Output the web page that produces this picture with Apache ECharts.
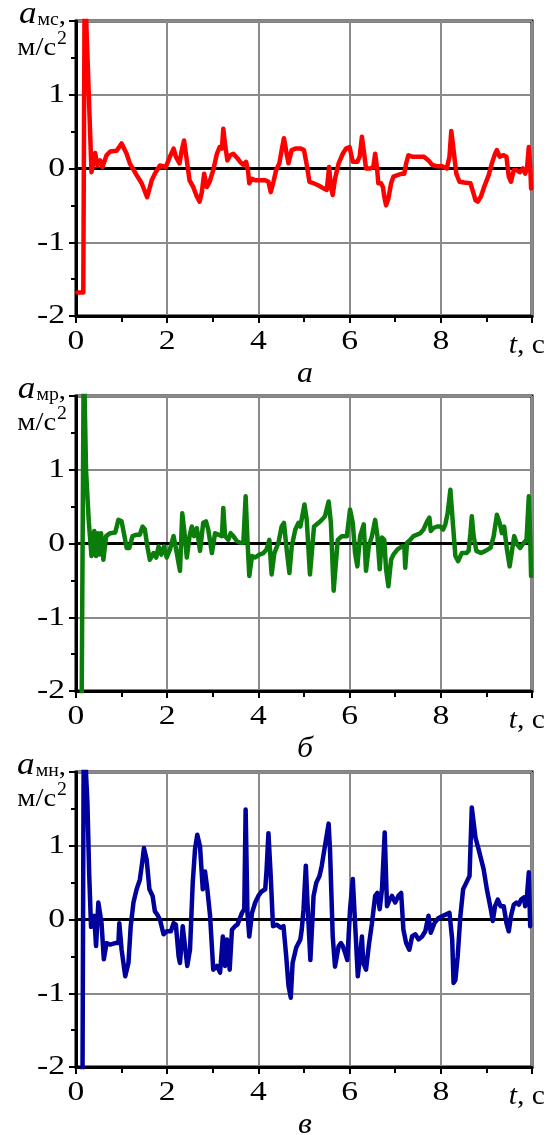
<!DOCTYPE html>
<html>
<head>
<meta charset="utf-8">
<script src="https://cdn.jsdelivr.net/npm/echarts@6/dist/echarts.min.js"></script>
<style>
html,body{margin:0;padding:0;background:#fff;}
#chart{width:546px;height:1135px;}
</style>
</head>
<body>
<div id="chart"></div>
<script>
// ---------- data ----------
const xTicks = [0, 2, 4, 6, 8];
const yTicks = [-2, -1, 0, 1];

// panel а: a_мс
const tMs = [0.03,0.16,0.19,0.22,0.34,0.42,0.47,0.53,0.58,0.67,0.75,0.89,1.0,1.11,1.18,1.33,1.44,1.56,1.66,1.73,1.84,1.97,2.06,2.14,2.19,2.27,2.32,2.37,2.43,2.49,2.57,2.65,2.71,2.76,2.81,2.87,2.93,3.01,3.09,3.15,3.20,3.23,3.27,3.32,3.38,3.45,3.54,3.60,3.67,3.73,3.77,3.80,3.86,3.93,4.04,4.15,4.22,4.27,4.33,4.39,4.46,4.51,4.56,4.62,4.66,4.73,4.81,4.88,4.93,5.00,5.06,5.12,5.21,5.32,5.43,5.50,5.55,5.59,5.63,5.68,5.76,5.85,5.92,6.00,6.07,6.17,6.22,6.27,6.32,6.36,6.45,6.52,6.56,6.60,6.63,6.69,6.73,6.76,6.80,6.85,6.91,6.96,7.05,7.15,7.20,7.24,7.29,7.37,7.48,7.63,7.73,7.81,7.92,8.03,8.13,8.19,8.23,8.28,8.34,8.41,8.51,8.65,8.71,8.76,8.81,8.88,8.95,9.05,9.12,9.19,9.23,9.29,9.38,9.44,9.49,9.54,9.60,9.66,9.73,9.80,9.85,9.89,9.93,9.96,9.98];
const aMs = [-1.68,-1.68,2.6,2.6,-0.05,0.21,0.04,0.11,0.02,0.18,0.23,0.24,0.34,0.20,0.07,-0.09,-0.20,-0.39,-0.16,-0.07,0.04,0.02,0.16,0.27,0.16,0.07,0.25,0.38,0.11,-0.16,-0.25,-0.38,-0.45,-0.32,-0.07,-0.25,-0.18,-0.02,0.20,0.29,0.27,0.54,0.32,0.11,0.18,0.20,0.14,0.09,0.05,0.09,-0.02,-0.20,-0.14,-0.16,-0.16,-0.16,-0.18,-0.32,-0.18,-0.02,0.07,0.25,0.41,0.20,0.07,0.25,0.27,0.27,0.27,0.25,0.05,-0.18,-0.20,-0.23,-0.27,-0.29,0.02,-0.25,-0.36,-0.14,0.07,0.20,0.27,0.29,0.09,0.09,0.16,0.43,0.20,0.0,0.0,0.02,0.20,0.02,-0.20,-0.20,-0.25,-0.38,-0.50,-0.41,-0.20,-0.11,-0.09,-0.07,-0.07,0.07,0.18,0.16,0.16,0.16,0.11,0.05,0.03,0.03,0.0,0.16,0.51,0.25,-0.07,-0.18,-0.19,-0.20,-0.32,-0.43,-0.45,-0.38,-0.25,-0.09,0.07,0.20,0.25,0.16,0.18,0.16,-0.11,-0.18,-0.02,-0.02,-0.05,0.0,-0.07,0.0,0.29,0.05,-0.27];

// panel б: a_мр
const tMp = [0.12,0.17,0.22,0.28,0.34,0.40,0.44,0.48,0.51,0.55,0.60,0.66,0.75,0.86,0.93,1.00,1.05,1.11,1.17,1.24,1.33,1.40,1.46,1.51,1.57,1.62,1.70,1.76,1.81,1.87,1.93,1.99,2.06,2.14,2.21,2.28,2.33,2.38,2.43,2.49,2.54,2.59,2.65,2.72,2.79,2.85,2.90,2.98,3.05,3.12,3.20,3.23,3.27,3.34,3.39,3.45,3.53,3.60,3.67,3.72,3.76,3.80,3.86,3.93,4.02,4.11,4.18,4.24,4.29,4.35,4.44,4.51,4.56,4.62,4.68,4.73,4.81,4.88,4.92,5.01,5.06,5.13,5.22,5.32,5.39,5.46,5.54,5.59,5.65,5.74,5.83,5.94,6.01,6.07,6.12,6.17,6.23,6.31,6.36,6.42,6.49,6.56,6.61,6.66,6.71,6.76,6.80,6.85,6.91,6.96,7.05,7.15,7.20,7.22,7.26,7.33,7.40,7.48,7.55,7.62,7.70,7.75,7.78,7.84,7.92,7.99,8.05,8.10,8.15,8.21,8.27,8.32,8.38,8.46,8.56,8.61,8.65,8.68,8.72,8.78,8.88,8.98,9.09,9.16,9.23,9.29,9.34,9.39,9.45,9.51,9.57,9.61,9.67,9.74,9.82,9.88,9.91,9.93,9.96,9.98];
const aMp = [-2.6,2.6,1.0,0.3,-0.17,0.17,-0.17,0.14,-0.15,0.14,-0.22,0.10,0.14,0.15,0.32,0.30,0.14,-0.06,-0.06,0.10,0.12,0.12,0.23,0.19,-0.06,-0.22,-0.13,-0.19,-0.04,-0.15,-0.04,-0.19,-0.08,0.10,-0.13,-0.37,0.41,0.14,-0.19,0.10,0.23,0.10,0.21,-0.10,0.28,0.30,0.19,-0.13,0.14,0.12,0.10,0.48,0.10,0.05,0.14,0.10,0.03,0.01,0.01,0.64,0.05,-0.44,-0.17,-0.19,-0.15,-0.13,-0.08,0.05,-0.42,-0.13,0.01,0.23,0.28,-0.08,-0.40,-0.04,0.19,0.28,0.23,0.53,0.32,-0.42,0.23,0.28,0.32,0.37,0.57,0.28,-0.64,0.05,0.10,0.10,0.46,0.28,-0.13,-0.31,0.10,0.26,-0.37,-0.04,0.10,0.32,0.10,-0.35,0.08,0.05,-0.35,-0.58,-0.22,-0.15,-0.08,-0.04,-0.04,-0.33,0.01,0.05,0.10,0.12,0.14,0.19,0.30,0.35,0.17,0.21,0.23,0.23,0.19,0.26,0.41,0.73,0.23,-0.17,-0.24,-0.13,-0.13,-0.10,0.14,0.37,0.10,-0.10,-0.13,-0.10,-0.06,0.10,0.39,0.28,0.14,0.23,-0.08,-0.31,-0.06,0.10,-0.01,-0.06,0.01,0.05,0.03,0.64,0.10,-0.44];

// panel в: a_мн
const tMn = [0.14,0.17,0.25,0.29,0.33,0.40,0.44,0.49,0.53,0.56,0.61,0.67,0.75,0.86,0.93,0.95,1.00,1.08,1.15,1.20,1.26,1.33,1.40,1.46,1.49,1.55,1.61,1.68,1.73,1.78,1.84,1.92,1.99,2.08,2.14,2.19,2.25,2.28,2.34,2.39,2.44,2.50,2.56,2.61,2.66,2.72,2.78,2.83,2.88,2.94,3.01,3.09,3.16,3.22,3.27,3.31,3.37,3.42,3.49,3.54,3.64,3.69,3.72,3.76,3.80,3.86,3.93,4.00,4.07,4.15,4.18,4.22,4.27,4.32,4.40,4.49,4.55,4.61,4.66,4.71,4.75,4.83,4.92,4.95,4.99,5.04,5.08,5.14,5.21,5.27,5.34,5.39,5.46,5.54,5.57,5.63,5.68,5.76,5.81,5.85,5.90,5.95,6.01,6.07,6.12,6.18,6.23,6.27,6.30,6.36,6.42,6.49,6.56,6.61,6.66,6.71,6.77,6.82,6.88,6.93,7.00,7.07,7.13,7.18,7.24,7.31,7.37,7.44,7.51,7.59,7.66,7.73,7.78,7.86,7.95,8.05,8.12,8.19,8.25,8.28,8.32,8.37,8.43,8.49,8.56,8.63,8.68,8.76,8.83,8.94,9.01,9.09,9.14,9.19,9.25,9.31,9.38,9.44,9.49,9.54,9.60,9.66,9.71,9.76,9.82,9.85,9.89,9.93,9.96];
const aMn = [-2.6,2.6,1.6,0.6,-0.1,0.05,-0.36,0.23,0.25,-0.05,-0.54,-0.32,-0.34,-0.32,-0.32,-0.05,-0.41,-0.77,-0.59,-0.09,0.23,0.41,0.54,0.81,0.97,0.81,0.41,0.32,0.11,0.07,0.0,-0.20,-0.16,-0.16,-0.05,-0.07,-0.50,-0.59,-0.09,-0.36,-0.63,-0.41,0.50,0.95,1.15,0.99,0.41,0.65,0.41,0.05,-0.68,-0.63,-0.72,-0.23,-0.63,-0.27,-0.68,-0.14,-0.09,-0.07,0.09,0.14,1.49,0.09,-0.23,0.09,0.23,0.32,0.38,0.41,0.68,1.17,0.59,-0.09,-0.07,-0.11,-0.09,-0.50,-0.90,-1.06,-0.59,-0.38,-0.27,-0.14,0.14,0.73,0.18,-0.55,0.32,0.50,0.59,0.73,1.0,1.30,0.95,-0.23,-0.64,-0.36,-0.32,-0.36,-0.45,-0.55,0.14,0.55,-0.05,-0.77,-0.50,-0.23,-0.59,-0.68,-0.36,-0.05,0.32,0.36,0.14,0.41,1.18,0.18,0.27,0.32,0.23,0.32,0.36,-0.14,-0.32,-0.41,-0.23,-0.20,-0.27,-0.23,-0.16,0.05,-0.18,-0.05,0.02,0.05,0.07,0.09,-0.27,-0.86,-0.82,-0.50,0.05,0.41,0.50,0.59,1.52,1.11,0.95,0.68,0.41,0.16,-0.02,0.18,0.27,0.18,0.18,-0.05,-0.16,0.05,0.20,0.23,0.20,0.27,0.30,0.18,0.32,0.64,-0.09];

const panels = [
  {t: tMs, a: aMs, color: '#ff0000', sub: 'мс', caption: 'а'},
  {t: tMp, a: aMp, color: '#0a7d0a', sub: 'мр', caption: 'б'},
  {t: tMn, a: aMn, color: '#00009c', sub: 'мн', caption: 'в'}
];

// ---------- layout ----------
const GL = 76, GW = 456, GH = 295;
const tops = [21, 396, 772];
const SERIF = '"Liberation Serif","Times New Roman",serif';
const SX = 1.2; // horizontal stretch of the reference lettering

const chart = echarts.init(document.getElementById('chart'), null, {renderer: 'canvas'});

const grids = [], xAxes = [], yAxes = [], series = [];

panels.forEach((p, i) => {
  grids.push({left: GL, top: tops[i], width: GW, height: GH, show: true,
    borderColor: '#000', borderWidth: 3, backgroundColor: 'transparent', containLabel: false});
  xAxes.push({
    type: 'value', gridIndex: i, min: 0, max: 10, interval: 2,
    axisLine: {show: true, onZero: false, lineStyle: {color: '#000', width: 3}},
    axisTick: {show: true, inside: false, length: 7, lineStyle: {color: '#000', width: 2}},
    minorTick: {show: true, splitNumber: 2, length: 6, lineStyle: {color: '#000', width: 2}},
    splitLine: {show: true, lineStyle: {color: '#8a8a8a', width: 2}},
    axisLabel: {show: false}
  });
  yAxes.push({
    type: 'value', gridIndex: i, min: -2, max: 2, interval: 1,
    axisLine: {show: true, onZero: false, lineStyle: {color: '#000', width: 3}},
    axisTick: {show: true, inside: false, length: 7, lineStyle: {color: '#000', width: 2}},
    minorTick: {show: true, splitNumber: 2, length: 5, lineStyle: {color: '#000', width: 2}},
    splitLine: {show: true, lineStyle: {color: '#8a8a8a', width: 2}},
    axisLabel: {show: false}
  });
  series.push({
    type: 'line', xAxisIndex: i, yAxisIndex: i, data: [[0, 0], [10, 0]],
    showSymbol: false, silent: true, z: 3,
    lineStyle: {color: '#000', width: 3}
  });
  series.push({
    type: 'line', xAxisIndex: i, yAxisIndex: i,
    data: p.t.map((t, k) => [t, p.a[k]]),
    showSymbol: false, clip: true, z: 4,
    lineStyle: {color: p.color, width: 4.5, join: 'round', cap: 'round'}
  });
});

chart.setOption({
  animation: false,
  backgroundColor: '#fff',
  grid: grids, xAxis: xAxes, yAxis: yAxes, series: series
});

// ---------- lettering (placed through the axes' own scales) ----------
const ctx = document.createElement('canvas').getContext('2d');
const width = (text, font) => { ctx.font = font; return ctx.measureText(text).width; };
const graphics = [];
const txt = (x, y, text, font, align, sx) => ({
  type: 'text', x: x, y: y, scaleX: sx == null ? SX : sx, silent: true, z: 100,
  style: {text: text, font: font, fill: '#000', align: align || 'left', verticalAlign: 'middle'}
});
const mid = (b, fs) => b - 0.31 * fs;

const F_TICK = '28px ' + SERIF;
const F_A = 'italic 32px ' + SERIF;
const F_SUB = '18px ' + SERIF;
const F_UNIT = '26px ' + SERIF;
const F_T = 'italic 27px ' + SERIF;
const F_C = '27px ' + SERIF;
const F_CAP = 'italic 29px ' + SERIF;
const TS = 1.1; // stretch for the axis titles

panels.forEach((p, i) => {
  const ref = {xAxisIndex: i, yAxisIndex: i};
  xTicks.forEach(v => {
    const pt = chart.convertToPixel(ref, [v, -2]);
    graphics.push(txt(pt[0], pt[1] + 26, String(v), F_TICK, 'center'));
  });
  yTicks.forEach(v => {
    const pt = chart.convertToPixel(ref, [0, v]);
    graphics.push(txt(pt[0] - 11, pt[1], String(v), F_TICK, 'right'));
  });

  const top = tops[i];
  const b1 = top + 4, b2 = top + 35;
  // first line: a_xx,  ends just left of the frame
  const wA = width('a', F_A) * TS, wS = width(p.sub, F_SUB) * TS, wC = width(',', F_UNIT) * TS;
  let x0 = 66 - (wA + wS + wC + 1);
  graphics.push(txt(x0, mid(b1, 32), 'a', F_A, 'left', TS));
  graphics.push(txt(x0 + wA + 1, mid(b1 + 1, 18), p.sub, F_SUB, 'left', TS));
  graphics.push(txt(x0 + wA + 1 + wS, mid(b1, 26), ',', F_UNIT, 'left', TS));
  // second line: м/с^2
  const wU = width('м/с', F_UNIT) * TS, w2 = width('2', F_SUB) * TS;
  const x1 = 67 - (wU + w2 + 1);
  graphics.push(txt(x1, mid(b2, 26), 'м/с', F_UNIT, 'left', TS));
  graphics.push(txt(x1 + wU + 1, mid(b2 - 11, 18), '2', F_SUB, 'left', TS));

  // x-axis title: t, с
  const bx = top + GH + 38;
  const wT = width('t', F_T) * TS, wCc = width(', с', F_C) * TS;
  const xt = 545 - (wT + wCc);
  graphics.push(txt(xt, mid(bx, 27), 't', F_T, 'left', TS));
  graphics.push(txt(xt + wT, mid(bx, 27), ', с', F_C, 'left', TS));

  const bc = top + GH + 67;
  graphics.push(txt(305, mid(bc, 29), p.caption, F_CAP, 'center', TS));
});

chart.setOption({graphic: graphics});
</script>
</body>
</html>
